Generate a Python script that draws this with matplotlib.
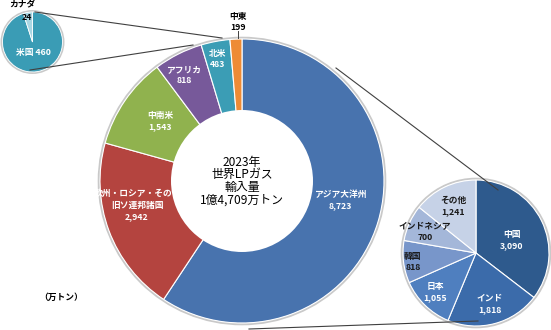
import matplotlib
matplotlib.use("Agg")
import matplotlib.pyplot as plt
from matplotlib.patches import Circle

plt.rcParams['font.family'] = ['Noto Sans CJK JP', 'DejaVu Sans']

# world LPG imports 2023 (10k tons)
regions = ["アジア大洋州", "欧州・ロシア・その他\n旧ソ連邦諸国", "中南米", "アフリカ", "北米", "中東"]
region_vals = [8723, 2942, 1543, 818, 483, 199]
region_cols = ["#4873AE", "#B4443F", "#90B24E", "#77599A", "#3B9DB5", "#EE8B35"]

na_names = ["米国", "カナダ"]
na_vals = [460, 24]
na_cols = ["#3A9CB5", "#A9D6E3"]

asia_names = ["中国", "インド", "日本", "韓国", "インドネシア", "その他"]
asia_vals = [3090, 1818, 1055, 818, 700, 1241]
asia_cols = ["#2E5A8D", "#3B6BAA", "#4F7FBF", "#7896CA", "#A4B7D9", "#C6D2E7"]

H = 330


def Y(y):
    return H - y


def fmt(v):
    return f"{v:,}"


fig = plt.figure(figsize=(5.51, 3.30), dpi=100)
ax = fig.add_axes([0, 0, 1, 1])

# main donut
mc, mr = (242, Y(181)), 142
ax.add_patch(Circle(mc, mr + 1.2, fc="none", ec="#c9c9c9", lw=1.6, zorder=0))
ax.pie(region_vals, colors=region_cols, startangle=90, counterclock=False,
       radius=mr, center=mc, wedgeprops=dict(edgecolor="white", linewidth=0.8))
ax.add_patch(Circle(mc, 71, fc="white", ec="none", zorder=4))

# north america pie
nc, nr = (32.5, Y(42)), 30
ax.add_patch(Circle(nc, nr + 1, fc="none", ec="#c9c9c9", lw=1.4, zorder=0))
ax.pie(na_vals, colors=na_cols, startangle=90, counterclock=False,
       radius=nr, center=nc, wedgeprops=dict(edgecolor="white", linewidth=0.6))

# asia pie
ac, ar = (476, Y(253)), 73
ax.add_patch(Circle(ac, ar + 1.2, fc="none", ec="#c9c9c9", lw=1.6, zorder=0))
ax.pie(asia_vals, colors=asia_cols, startangle=90, counterclock=False,
       radius=ar, center=ac, wedgeprops=dict(edgecolor="white", linewidth=0.8))

# connector lines
lc = "#404040"
ax.plot([35, 222], [Y(12), Y(38)], color=lc, lw=0.8, zorder=2)
ax.plot([30, 193], [Y(70), Y(45)], color=lc, lw=0.8, zorder=2)
ax.plot([336, 498], [Y(68), Y(190)], color=lc, lw=0.8, zorder=6)
ax.plot([249, 478], [Y(329), Y(321)], color=lc, lw=0.8, zorder=6)
ax.plot([238, 238], [Y(31), Y(38)], color=lc, lw=0.7, zorder=2)

# labels
lab = dict(ha="center", va="center", fontsize=6.3, fontweight="bold", zorder=3)
region_pos = [(340, 200), (137, 205), (160, 121), (184, 75), (218, 59)]
for name, v, (x, y) in zip(regions[:5], region_vals[:5], region_pos):
    ax.text(x, Y(y), f"{name}\n{fmt(v)}", color="white", linespacing=1.35, **lab)
ax.text(238, Y(22), f"{regions[5]}\n{fmt(region_vals[5])}", color="black", linespacing=1.35, **lab)

ax.text(33, Y(53), f"{na_names[0]} {na_vals[0]}", color="white", **lab)
ax.text(22, Y(5), na_names[1], color="black", **lab)
ax.text(27, Y(18), str(na_vals[1]), color="black", **lab)

asia_pos = [(512, 240), (490, 304), (435, 292), (413, 262), (425, 232), (453, 206)]
asia_txt = ["white", "white", "white", "#1a1a1a", "#1a1a1a", "#1a1a1a"]
for name, v, (x, y), c in zip(asia_names, asia_vals, asia_pos, asia_txt):
    ax.text(x, Y(y), f"{name}\n{fmt(v)}", color=c, linespacing=1.35, **lab)

ax.text(mc[0], mc[1], "2023年\n世界LPガス\n輸入量\n1億4,709万トン",
        ha="center", va="center", fontsize=8.6, linespacing=0.95, zorder=5)
ax.text(61, Y(297), "（万トン）", ha="center", va="center", fontsize=6.3,
        fontweight="bold")

ax.set_xlim(0, 551)
ax.set_ylim(0, H)
ax.set_aspect("equal")
ax.axis("off")

fig.savefig("out.png", dpi=100)
